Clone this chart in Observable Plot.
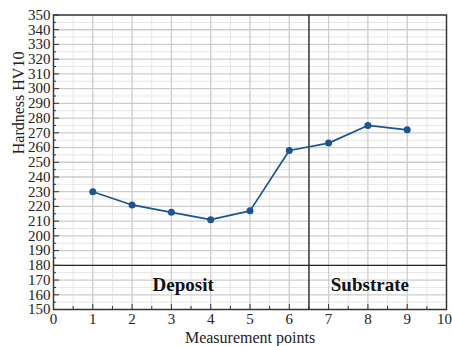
<!DOCTYPE html>
<html>
<head>
<meta charset="utf-8">
<script src="https://cdn.jsdelivr.net/npm/d3@7"></script>
<script src="https://cdn.jsdelivr.net/npm/@observablehq/plot@0.6"></script>
<style>
  body { margin: 0; background: #fff; }
  #chart svg { display: block; }
</style>
</head>
<body>
<div id="chart"></div>
<script>
// Hardness profile across deposit and substrate
const points = [1, 2, 3, 4, 5, 6, 7, 8, 9];
const hardness = [230, 221, 216, 211, 217, 258, 263, 275, 272];

// Axis ticks
const xTicks = [0, 1, 2, 3, 4, 5, 6, 7, 8, 9];
const xLastTick = [10];
const yTicks = [150, 160, 170, 180, 190, 200, 210, 220, 230, 240, 250,
                260, 270, 280, 290, 300, 310, 320, 330, 340, 350];
const xMinor = d3.range(0.5, 10, 1);
const yMinor = d3.range(155, 350, 10);

// Zone boundaries and zone names
const boundaryX = [6.5];
const boundaryY = [180];
const zoneNames = ["Deposit", "Substrate"];
const zoneX = [3.3, 8.05];
const zoneY = [167, 167];

const data = points.map((p, i) => ({point: p, hv: hardness[i]}));
const zones = zoneNames.map((name, i) => ({name, x: zoneX[i], y: zoneY[i]}));
const allXTicks = xTicks.concat(xLastTick);

const serif = "'Liberation Serif', 'Times New Roman', serif";

const chart = Plot.plot({
  width: 452,
  height: 346,
  marginLeft: 53,
  marginRight: 6,
  marginTop: 14.5,
  marginBottom: 37,
  style: {fontFamily: serif, fontSize: "15px", color: "#222", background: "#fff"},
  x: {domain: [0, 10]},
  y: {domain: [150, 350]},
  marks: [
    // minor grid
    Plot.ruleX(xMinor, {stroke: "#e6e6e6", strokeWidth: 1}),
    Plot.ruleY(yMinor, {stroke: "#e6e6e6", strokeWidth: 1}),
    // major grid
    Plot.ruleX(allXTicks, {stroke: "#cdcdcd", strokeWidth: 1.3}),
    Plot.ruleY(yTicks, {stroke: "#cdcdcd", strokeWidth: 1.3}),
    // zone boundaries
    Plot.ruleX(boundaryX, {stroke: "#2a2a2a", strokeWidth: 1.4}),
    Plot.ruleY(boundaryY, {stroke: "#2a2a2a", strokeWidth: 1.4}),
    // hardness profile
    Plot.line(data, {x: "point", y: "hv", stroke: "#1a5592", strokeWidth: 1.7}),
    Plot.dot(data, {x: "point", y: "hv", r: 3.5, fill: "#1a5592"}),
    // zone names
    Plot.text(zones, {x: "x", y: "y", text: "name", fontWeight: "bold", fontSize: 19, fill: "#111"}),
    // inward tick marks
    Plot.axisY(yTicks, {tickSize: 6, dx: 6, tickFormat: () => "", label: null, stroke: "#333"}),
    Plot.axisY(yMinor, {tickSize: 3, dx: 3, tickFormat: () => "", label: null, stroke: "#333"}),
    Plot.axisX(allXTicks, {tickSize: 5, dy: -5, tickFormat: () => "", label: null, stroke: "#333"}),
    Plot.axisX(xMinor, {tickSize: 3, dy: -3, tickFormat: () => "", label: null, stroke: "#333"}),
    // tick labels
    Plot.axisY(yTicks, {tickSize: 0, tickPadding: 3, fontSize: 15, label: null}),
    Plot.axisX(xTicks, {tickSize: 0, tickPadding: 4, fontSize: 15, label: null}),
    Plot.axisX(xLastTick, {tickSize: 0, tickPadding: 4, fontSize: 15, label: null, dx: -2}),
    // axis titles
    Plot.text(["Hardness HV10"], {frameAnchor: "left", rotate: -90, dx: -35, dy: -8, fontSize: 16, fill: "#222"}),
    Plot.text(["Measurement points"], {frameAnchor: "bottom", lineAnchor: "top", dy: 22, fontSize: 16, fill: "#222"}),
    Plot.frame({stroke: "#333", strokeWidth: 1.4})
  ]
});

document.getElementById("chart").append(chart);
</script>
</body>
</html>
